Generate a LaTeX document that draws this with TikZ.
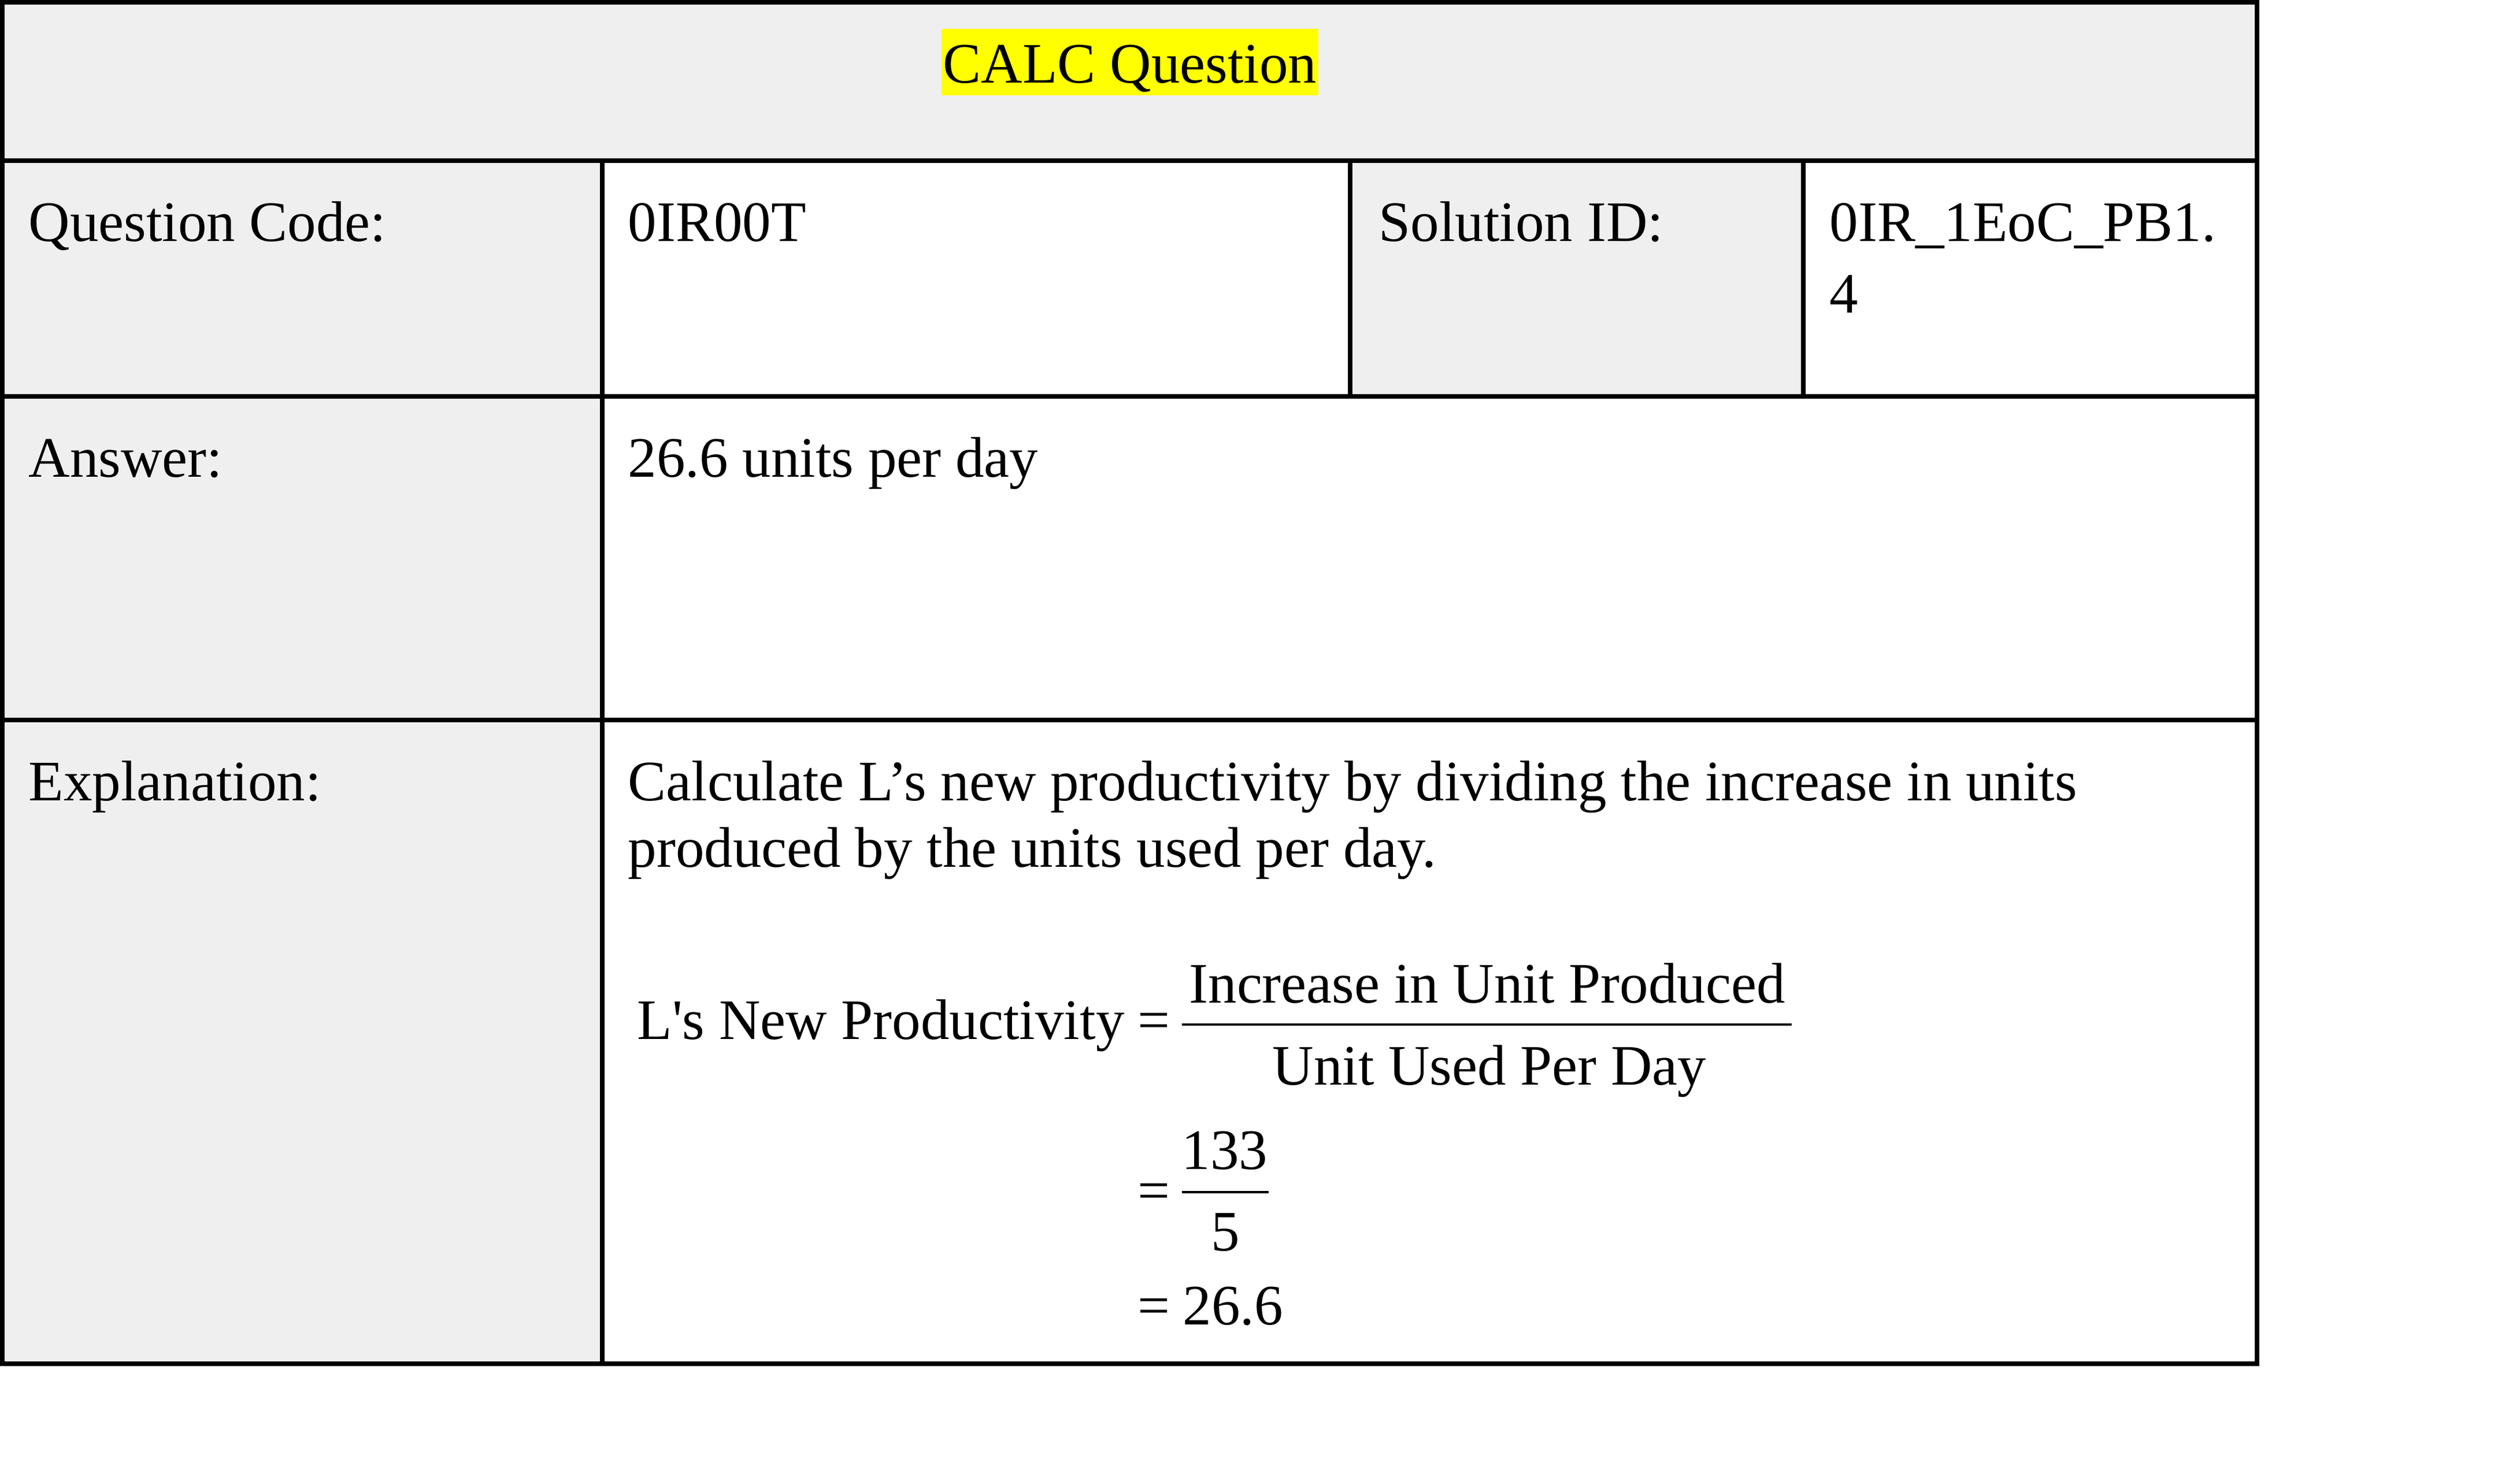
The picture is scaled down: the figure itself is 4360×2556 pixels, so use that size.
\documentclass[tikz,border=0pt]{standalone}
\usepackage{fontspec}
\setmainfont{Liberation Serif}
\usepackage{tikz}
\definecolor{cellgray}{RGB}{239,239,239}
\definecolor{markyellow}{RGB}{255,255,0}
\tikzstyle{rule} = [line width=0.9pt, draw=black]
\tikzstyle{celltext} = [anchor=base west, inner sep=0pt, font=\fontsize{12}{14}\selectfont]
\tikzstyle{eqtext} = [anchor=base, inner sep=0pt, font=\fontsize{12}{14}\selectfont]
\tikzstyle{fracbar} = [line width=0.5pt, draw=black]

\begin{document}
\begin{tikzpicture}[x=0.1212pt, y=-0.1212pt]
  \useasboundingbox (0, 0) rectangle (4360, 2556);

  % Cell Backgrounds
  \fill[cellgray] (4, 4) rectangle (3905, 278);
  \fill[cellgray] (4, 278) rectangle (1042, 2360);
  \fill[cellgray] (2336, 278) rectangle (3120, 686);

  % Grid
  \draw[rule] (4, 4) rectangle (3905, 2360);
  \foreach \y in {278, 686, 1246}
    \draw[rule] (4, \y) -- (3905, \y);
  \draw[rule] (1042, 278) -- (1042, 2360);
  \foreach \x in {2336, 3120}
    \draw[rule] (\x, 278) -- (\x, 686);

  % Title Row
  \node[eqtext, fill=markyellow, inner xsep=0.4pt, text height=11.4pt, text depth=2.55pt] (title) at (1955, 144) {CALC Question};

  % Second Row
  \node[celltext] (q_code_label) at (48, 418) {Question Code:};
  \node[celltext] (q_code) at (1085, 418) {0IR00T};
  \node[celltext] (sol_label) at (2384, 418) {Solution ID:};
  \node[celltext] (sol_id) at (3164, 418) {0IR\_1EoC\_PB1.};
  \node[celltext] (sol_id_end) at (3164, 542) {4};

  % Third Row
  \node[celltext] (ans_label) at (48, 825) {Answer:};
  \node[celltext] (ans) at (1085, 825) {26.6 units per day};

  % Fourth Row
  \node[celltext] (expl_label) at (48, 1385) {Explanation:};
  \node[celltext] (expl_a) at (1085, 1385) {Calculate L’s new productivity by dividing the increase in units};
  \node[celltext] (expl_b) at (1085, 1500) {produced by the units used per day.};

  % Equation
  \node[celltext] (lhs) at (1101, 1798) {L\textquotesingle s New Productivity};
  \node[eqtext] (eq_a) at (1996, 1798) {=};
  \node[eqtext] (num_a) at (2573, 1735) {Increase in Unit Produced};
  \node[eqtext] (den_a) at (2577, 1877) {Unit Used Per Day};
  \draw[fracbar] (2045, 1773) -- (3100, 1773);

  \node[eqtext] (eq_b) at (1996, 2093) {=};
  \node[eqtext] (num_b) at (2119, 2023) {133};
  \node[eqtext] (den_b) at (2120, 2164) {5};
  \draw[fracbar] (2045, 2063) -- (2195, 2063);

  \node[eqtext] (eq_c) at (1996, 2292) {=};
  \node[celltext] (result) at (2045, 2292) {26.6};

\end{tikzpicture}
\end{document}
